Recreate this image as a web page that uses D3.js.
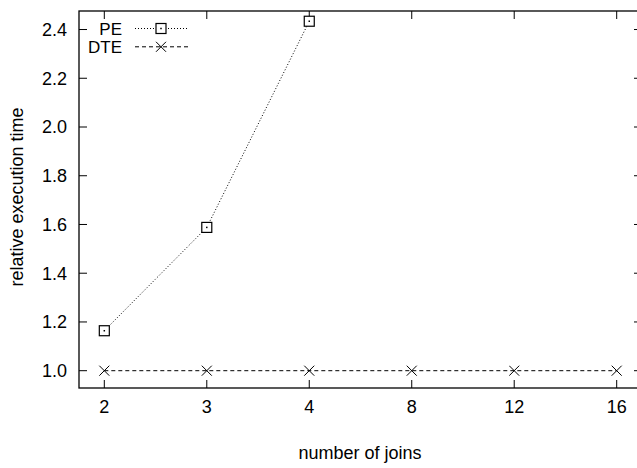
<!DOCTYPE html>
<meta charset="utf-8">
<style>
body { margin: 0; background: #fff; }
text { font-family: "Liberation Sans", Arial, sans-serif; fill: #000; }
</style>
<body>
<script src="https://d3js.org/d3.v7.min.js"></script>
<script>
// data
const joins = ["2", "3", "4", "8", "12", "16"];
const peValues = [1.164, 1.588, 2.434];
const dteValues = [1.0, 1.0, 1.0, 1.0, 1.0, 1.0];
const yTicks = [1.0, 1.2, 1.4, 1.6, 1.8, 2.0, 2.2, 2.4];

const width = 637, height = 468;
const plotLeft = 79, plotRight = 642, plotTop = 11, plotBottom = 388;

const svg = d3.select("body").append("svg")
  .attr("width", width)
  .attr("height", height);

const x = d3.scalePoint().domain(joins).range([plotLeft, plotRight]).padding(0.247);
const y = d3.scaleLinear().domain([0.929, 2.476]).range([plotBottom, plotTop]);

// ticks (gnuplot style: inside on all four sides)
const tl = 8;
svg.append("g").selectAll("line").data(joins).enter().append("line")
  .attr("x1", d => x(d)).attr("x2", d => x(d))
  .attr("y1", plotBottom).attr("y2", plotBottom - tl)
  .attr("stroke", "#000");
svg.append("g").selectAll("line").data(joins).enter().append("line")
  .attr("x1", d => x(d)).attr("x2", d => x(d))
  .attr("y1", plotTop).attr("y2", plotTop + tl)
  .attr("stroke", "#000");
svg.append("g").selectAll("line").data(yTicks).enter().append("line")
  .attr("x1", plotLeft).attr("x2", plotLeft + tl)
  .attr("y1", d => y(d)).attr("y2", d => y(d))
  .attr("stroke", "#000");
svg.append("g").selectAll("line").data(yTicks).enter().append("line")
  .attr("x1", plotRight).attr("x2", plotRight - tl)
  .attr("y1", d => y(d)).attr("y2", d => y(d))
  .attr("stroke", "#000");

// tick labels
svg.append("g").selectAll("text").data(yTicks).enter().append("text")
  .attr("x", plotLeft - 12).attr("y", d => y(d))
  .attr("dy", "0.36em")
  .attr("text-anchor", "end")
  .style("font-size", "18px")
  .text(d => d.toFixed(1));
svg.append("g").selectAll("text").data(joins).enter().append("text")
  .attr("x", d => x(d)).attr("y", 413)
  .attr("text-anchor", "middle")
  .style("font-size", "18px")
  .text(d => d);

// axis titles
svg.append("text")
  .attr("transform", "translate(23,197) rotate(-90)")
  .attr("text-anchor", "middle")
  .style("font-size", "18px")
  .text("relative execution time");
svg.append("text")
  .attr("x", 360).attr("y", 459)
  .attr("text-anchor", "middle")
  .style("font-size", "18px")
  .text("number of joins");

// series
const line = d3.line().x((d, i) => x(joins[i])).y(d => y(d));

svg.append("path").datum(dteValues)
  .attr("d", line)
  .attr("fill", "none").attr("stroke", "#000")
  .attr("stroke-width", 1)
  .attr("stroke-dasharray", "4,3");
svg.append("path").datum(peValues)
  .attr("d", line)
  .attr("fill", "none").attr("stroke", "#000")
  .attr("stroke-width", 1)
  .attr("stroke-dasharray", "1,2");

function square(g, cx, cy) {
  g.append("rect")
    .attr("x", cx - 5).attr("y", cy - 5)
    .attr("width", 10).attr("height", 10)
    .attr("fill", "#fff").attr("stroke", "#000").attr("stroke-width", 1.2);
  g.append("rect")
    .attr("x", cx - 0.75).attr("y", cy - 0.75)
    .attr("width", 1.5).attr("height", 1.5).attr("fill", "#000");
}
function cross(g, cx, cy) {
  g.append("path")
    .attr("d", `M${cx - 5},${cy - 5}L${cx + 5},${cy + 5}M${cx - 5},${cy + 5}L${cx + 5},${cy - 5}`)
    .attr("stroke", "#000").attr("stroke-width", 1);
}

const marks = svg.append("g");
peValues.forEach((v, i) => square(marks, x(joins[i]), y(v)));
dteValues.forEach((v, i) => cross(marks, x(joins[i]), y(v)));

// legend
const legend = svg.append("g");
const legendRows = [
  { name: "PE", y: 28.5, dash: "1,2", mark: square },
  { name: "DTE", y: 46.8, dash: "4,3", mark: cross }
];
legendRows.forEach(r => {
  legend.append("text")
    .attr("x", 122).attr("y", r.y).attr("dy", "0.36em")
    .attr("text-anchor", "end")
    .style("font-size", "17px")
    .text(r.name);
  legend.append("line")
    .attr("x1", 135).attr("x2", 188)
    .attr("y1", r.y).attr("y2", r.y)
    .attr("stroke", "#000").attr("stroke-dasharray", r.dash);
  r.mark(legend, 161, r.y);
});

// frame
svg.append("rect")
  .attr("x", plotLeft).attr("y", plotTop)
  .attr("width", plotRight - plotLeft).attr("height", plotBottom - plotTop)
  .attr("fill", "none").attr("stroke", "#000").attr("stroke-width", 1.3);
</script>
</body>
